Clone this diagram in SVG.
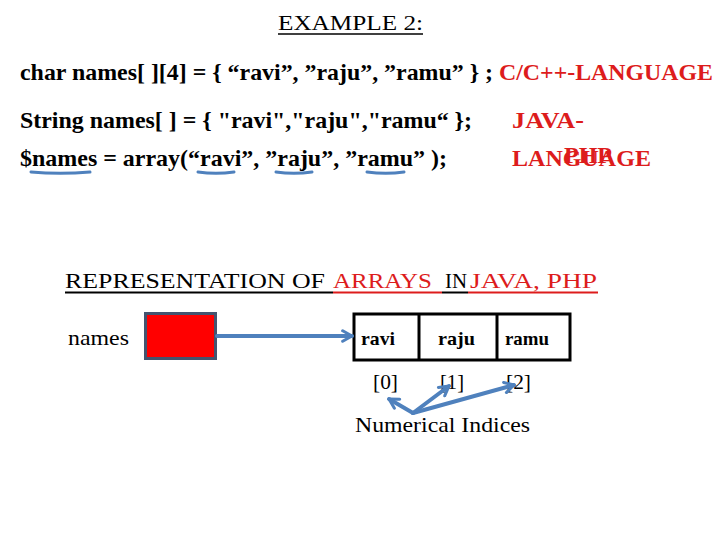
<svg xmlns="http://www.w3.org/2000/svg" width="720" height="540" viewBox="0 0 720 540">
<defs>
<style>
.code{font-weight:bold;font-size:24px;fill:#000}
.serif{fill:#000}
.cell{font-weight:bold;font-size:19.5px;fill:#000}
.red{fill:#dd1c1c}
.blue{stroke:#4f81bd;fill:none;stroke-linecap:round}
</style>
<marker id="chev" viewBox="0 0 12 12" refX="10" refY="6" markerWidth="14" markerHeight="14" markerUnits="userSpaceOnUse" orient="auto">
<path d="M2,1.5 L10,6 L2,10.5" fill="none" stroke="#4f81bd" stroke-width="2.6" stroke-linecap="round" stroke-linejoin="round"/>
</marker>
</defs>
<rect width="720" height="540" fill="#fff"/>

<g id="title">
<text class="serif" font-family="Liberation Serif" x="278" y="30" font-size="20" textLength="145" lengthAdjust="spacingAndGlyphs">EXAMPLE 2:</text>
<line x1="278" y1="34" x2="423" y2="34" stroke="#000" stroke-width="1.6"/>
</g>

<g id="code-c">
<text class="code" font-family="Liberation Serif" x="20" y="80" textLength="473" lengthAdjust="spacingAndGlyphs">char names[ ][4] = { “ravi”, ”raju”, ”ramu” } ;</text>
<text class="code red" font-family="Liberation Serif" x="499" y="80" textLength="214" lengthAdjust="spacingAndGlyphs">C/C++-LANGUAGE</text>
</g>

<g id="code-java">
<text class="code" font-family="Liberation Serif" x="20" y="128" textLength="452" lengthAdjust="spacingAndGlyphs">String names[ ] = { "ravi","raju","ramu“ };</text>
<text class="code red" font-family="Liberation Serif" x="512" y="128" textLength="72" lengthAdjust="spacingAndGlyphs">JAVA-</text>
</g>

<g id="code-php">
<text class="code" font-family="Liberation Serif" x="20" y="166" textLength="427" lengthAdjust="spacingAndGlyphs">$names = array(“ravi”, ”raju”, ”ramu” );</text>
<text class="code red" font-family="Liberation Serif" x="512" y="166" textLength="139" lengthAdjust="spacingAndGlyphs">LANGUAGE</text>
<text class="code red" font-family="Liberation Serif" x="564" y="163" textLength="48" lengthAdjust="spacingAndGlyphs">PHP</text>
<path class="blue" stroke-width="3" d="M31,172 Q60,174.5 90,172"/>
<path class="blue" stroke-width="3" d="M198,172 Q216,174.5 234,172"/>
<path class="blue" stroke-width="3" d="M276,172 Q294,174.5 312,172"/>
<path class="blue" stroke-width="3" d="M367,172 Q386,174.5 404,172"/>
</g>

<g id="heading">
<text class="serif" font-family="Liberation Serif" x="65" y="288" font-size="21" textLength="260" lengthAdjust="spacingAndGlyphs">REPRESENTATION OF</text>
<text class="serif red" font-family="Liberation Serif" x="333" y="288" font-size="21" textLength="99" lengthAdjust="spacingAndGlyphs">ARRAYS</text>
<text class="serif" font-family="Liberation Serif" x="445" y="288" font-size="21" textLength="22" lengthAdjust="spacingAndGlyphs">IN</text>
<text class="serif red" font-family="Liberation Serif" x="470" y="288" font-size="21" textLength="127" lengthAdjust="spacingAndGlyphs">JAVA, PHP</text>
<line x1="65" y1="292.5" x2="333" y2="292.5" stroke="#000" stroke-width="2"/>
<line x1="333" y1="292.5" x2="442" y2="292.5" stroke="#dd1c1c" stroke-width="2"/>
<line x1="442" y1="292.5" x2="468" y2="292.5" stroke="#000" stroke-width="2"/>
<line x1="468" y1="292.5" x2="598" y2="292.5" stroke="#dd1c1c" stroke-width="2"/>
</g>

<g id="names-ref">
<text class="serif" font-family="Liberation Serif" x="68" y="345" font-size="22" textLength="61" lengthAdjust="spacingAndGlyphs">names</text>
<rect x="145.5" y="313.5" width="70" height="45" fill="#ff0000" stroke="#44546f" stroke-width="3"/>
</g>

<g id="array">
<rect x="354" y="314" width="216" height="46" fill="#fff" stroke="#000" stroke-width="3"/>
<line x1="419" y1="314" x2="419" y2="360" stroke="#000" stroke-width="3"/>
<line x1="497" y1="314" x2="497" y2="360" stroke="#000" stroke-width="3"/>
<text class="cell" font-family="Liberation Serif" x="361" y="345" textLength="34" lengthAdjust="spacingAndGlyphs">ravi</text>
<text class="cell" font-family="Liberation Serif" x="438" y="345" textLength="37" lengthAdjust="spacingAndGlyphs">raju</text>
<text class="cell" font-family="Liberation Serif" x="505" y="345" textLength="44" lengthAdjust="spacingAndGlyphs">ramu</text>
</g>

<g id="indices">
<text class="serif" font-family="Liberation Serif" x="373" y="389" font-size="22" textLength="25" lengthAdjust="spacingAndGlyphs">[0]</text>
<text class="serif" font-family="Liberation Serif" x="440" y="389" font-size="22" textLength="24" lengthAdjust="spacingAndGlyphs">[1]</text>
<text class="serif" font-family="Liberation Serif" x="506" y="389" font-size="22" textLength="25" lengthAdjust="spacingAndGlyphs">[2]</text>
</g>

<g id="label-numerical">
<text class="serif" font-family="Liberation Serif" x="355" y="432" font-size="22" textLength="175" lengthAdjust="spacingAndGlyphs">Numerical Indices</text>
</g>

<g id="connectors">
<line class="blue" x1="217" y1="336" x2="352" y2="336" stroke-width="4" marker-end="url(#chev)"/>
<line class="blue" x1="413" y1="413" x2="389" y2="399" stroke-width="4" marker-end="url(#chev)"/>
<line class="blue" x1="413" y1="413" x2="449" y2="386" stroke-width="4" marker-end="url(#chev)"/>
<line class="blue" x1="413" y1="413" x2="514" y2="385" stroke-width="4" marker-end="url(#chev)"/>
</g>
</svg>
